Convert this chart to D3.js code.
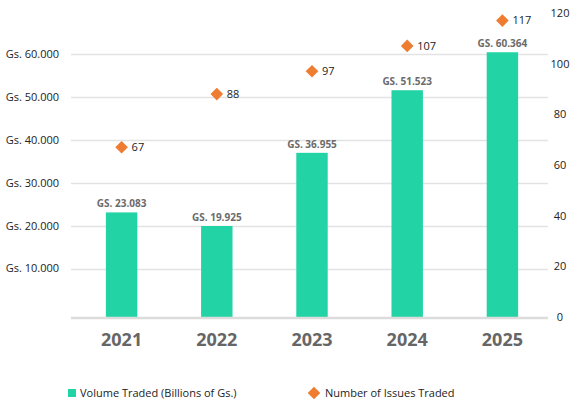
<!DOCTYPE html>
<html>
<head>
<meta charset="utf-8">
<script src="https://cdn.jsdelivr.net/npm/d3@7"></script>
<style>
  body { margin: 0; background: #fff; }
  svg { display: block; font-family: "Open Sans", "DejaVu Sans", sans-serif; }
</style>
</head>
<body>
<div id="chart"></div>
<script>
// data
var years = ['2021', '2022', '2023', '2024', '2025'];
var volume = [23.083, 19.925, 36.955, 51.523, 60.364];        // billions of Gs.
var volumeLabels = ['GS. 23.083', 'GS. 19.925', 'GS. 36.955', 'GS. 51.523', 'GS. 60.364'];
var issues = [67, 88, 97, 107, 117];
var leftTicks = [10, 20, 30, 40, 50, 60];
var leftTickLabels = ['Gs. 10.000', 'Gs. 20.000', 'Gs. 30.000', 'Gs. 40.000', 'Gs. 50.000', 'Gs. 60.000'];
var rightTicks = [0, 20, 40, 60, 80, 100, 120];

var W = 571, H = 401;
var plotTop = 13, plotBottom = 317;
var teal = '#21d3a5', orange = '#ee7d31';

var svg = d3.select('#chart').append('svg')
  .attr('width', W)
  .attr('height', H);

var x = d3.scaleBand()
  .domain(years)
  .range([74, 550])
  .paddingInner(0.67)
  .paddingOuter(0.335);

// left axis: zero sits a little above the plot floor
var yLeft = d3.scaleLinear()
  .domain([-1.26, 69.5])
  .range([plotBottom, plotTop]);

var yRight = d3.scaleLinear()
  .domain([0, 120])
  .range([plotBottom, plotTop]);

// grid lines
svg.append('g')
  .selectAll('line')
  .data(leftTicks)
  .enter()
  .append('line')
  .attr('x1', 71)
  .attr('x2', 548)
  .attr('y1', function(d) { return Math.round(yLeft(d)) + 0.5; })
  .attr('y2', function(d) { return Math.round(yLeft(d)) + 0.5; })
  .attr('stroke', '#e3e3e3')
  .attr('stroke-width', 1.5);

// left tick labels
svg.append('g')
  .selectAll('text')
  .data(leftTicks)
  .enter()
  .append('text')
  .attr('x', 59)
  .attr('y', function(d) { return yLeft(d); })
  .attr('dy', '0.35em')
  .attr('text-anchor', 'end')
  .attr('font-size', 11)
  .attr('fill', '#222')
  .text(function(d, i) { return leftTickLabels[i]; });

// right tick labels
svg.append('g')
  .selectAll('text')
  .data(rightTicks)
  .enter()
  .append('text')
  .attr('x', 560)
  .attr('y', function(d) { return yRight(d); })
  .attr('dy', '0.35em')
  .attr('text-anchor', 'middle')
  .attr('font-size', 11)
  .attr('fill', '#222')
  .text(function(d) { return d; });

// bars
svg.append('g')
  .selectAll('rect')
  .data(volume)
  .enter()
  .append('rect')
  .attr('x', function(d, i) { return x(years[i]); })
  .attr('width', x.bandwidth())
  .attr('y', function(d) { return yLeft(d); })
  .attr('height', function(d) { return plotBottom - yLeft(d); })
  .attr('fill', teal);

// baseline
svg.append('line')
  .attr('x1', 71)
  .attr('x2', 548)
  .attr('y1', plotBottom + 1)
  .attr('y2', plotBottom + 1)
  .attr('stroke', '#dcdcdc')
  .attr('stroke-width', 2.5);

// bar value labels
svg.append('g')
  .selectAll('text')
  .data(volume)
  .enter()
  .append('text')
  .attr('x', function(d, i) { return x(years[i]) + x.bandwidth() / 2; })
  .attr('y', function(d) { return yLeft(d) - 5; })
  .attr('text-anchor', 'middle')
  .attr('font-size', 10)
  .attr('font-weight', 'bold')
  .attr('fill', '#6b6b6b')
  .text(function(d, i) { return volumeLabels[i]; });

// year labels
svg.append('g')
  .selectAll('text')
  .data(years)
  .enter()
  .append('text')
  .attr('x', function(d) { return x(d) + x.bandwidth() / 2; })
  .attr('y', 346)
  .attr('text-anchor', 'middle')
  .attr('font-size', 18)
  .attr('font-weight', 'bold')
  .attr('fill', '#666')
  .text(function(d) { return d; });

// diamonds
var diamond = d3.symbol().type(d3.symbolSquare).size(80);
svg.append('g')
  .selectAll('path')
  .data(issues)
  .enter()
  .append('path')
  .attr('d', diamond)
  .attr('transform', function(d, i) {
    return 'translate(' + (x(years[i]) + x.bandwidth() / 2) + ',' + yRight(d) + ') rotate(45)';
  })
  .attr('fill', orange);

svg.append('g')
  .selectAll('text')
  .data(issues)
  .enter()
  .append('text')
  .attr('x', function(d, i) { return x(years[i]) + x.bandwidth() / 2 + 10; })
  .attr('y', function(d) { return yRight(d); })
  .attr('dy', '0.35em')
  .attr('font-size', 11)
  .attr('fill', '#222')
  .text(function(d) { return d; });

// legend
svg.append('rect')
  .attr('x', 68)
  .attr('y', 389)
  .attr('width', 8)
  .attr('height', 8)
  .attr('fill', teal);
svg.append('text')
  .attr('x', 80)
  .attr('y', 393)
  .attr('dy', '0.35em')
  .attr('font-size', 11)
  .attr('fill', '#222')
  .text('Volume Traded (Billions of Gs.)');

svg.append('path')
  .attr('d', diamond)
  .attr('transform', 'translate(314,393) rotate(45)')
  .attr('fill', orange);
svg.append('text')
  .attr('x', 325)
  .attr('y', 393)
  .attr('dy', '0.35em')
  .attr('font-size', 11)
  .attr('fill', '#222')
  .text('Number of Issues Traded');
</script>
</body>
</html>
